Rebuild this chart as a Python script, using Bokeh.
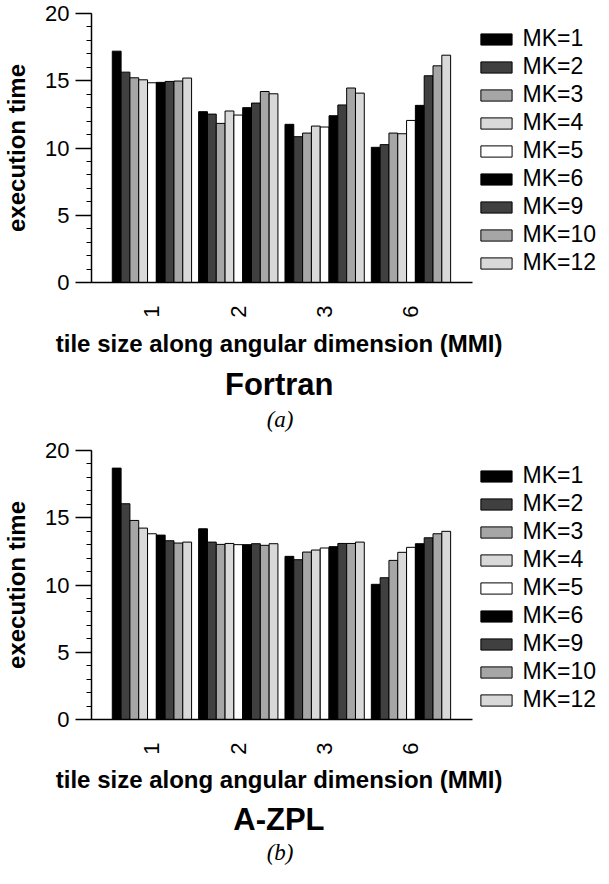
import numpy as np
from bokeh.plotting import figure
from bokeh.models import (Range1d, Legend, LegendItem, FixedTicker,
                          SingleIntervalTicker, Title, ColumnDataSource)
from bokeh.layouts import column
from bokeh.embed import file_html
from bokeh.resources import INLINE

# ---------------- data ----------------
tile_sizes = ["1", "2", "3", "6"]
mk_labels = ["MK=1", "MK=2", "MK=3", "MK=4", "MK=5", "MK=6", "MK=9", "MK=10", "MK=12"]

fortran_t1 = [17.2, 15.64, 15.22, 15.07, 14.85, 14.88, 14.95, 14.98, 15.2]
fortran_t2 = [12.7, 12.52, 11.83, 12.75, 12.45, 13.0, 13.34, 14.2, 14.03]
fortran_t3 = [11.76, 10.84, 11.11, 11.63, 11.56, 12.4, 13.2, 14.46, 14.08]
fortran_t6 = [10.05, 10.25, 11.11, 11.06, 12.05, 13.17, 15.37, 16.11, 16.9]

azpl_t1 = [18.69, 16.04, 14.8, 14.23, 13.81, 13.71, 13.29, 13.12, 13.19]
azpl_t2 = [14.18, 13.19, 13.02, 13.09, 13.0, 13.0, 13.07, 12.95, 13.07]
azpl_t3 = [12.13, 11.88, 12.45, 12.6, 12.75, 12.85, 13.09, 13.09, 13.19]
azpl_t6 = [10.05, 10.54, 11.83, 12.43, 12.8, 13.07, 13.51, 13.81, 13.99]

fills = ["#000000", "#404040", "#a6a6a6", "#d9d9d9", "#ffffff",
         "#000000", "#404040", "#a6a6a6", "#d9d9d9"]

FONT = "Liberation Sans"
GROUP_STEP = 9.8            # 9 bars + gap, in bar-width units
X_START = -2.36             # y axis position
X_LINE_START = -7.09        # baseline reaches left past the y axis
X_AXIS_END = 40.88          # right end of the x axis line
X_FRAME_END = 55.41         # frame continues under the legend


def make_chart(rows, name, tag, height, top, bottom, name_offset, gaps):
    so1, so2, so3 = gaps
    p = figure(width=600, height=height,
               x_range=Range1d(X_START, X_FRAME_END), y_range=Range1d(0, 20),
               output_backend="svg", toolbar_location=None,
               min_border_left=87, min_border_right=0,
               min_border_top=top, min_border_bottom=bottom,
               outline_line_color=None, background_fill_color="white")
    p.xgrid.visible = False
    p.ygrid.visible = False

    items = []
    for j, mk in enumerate(mk_labels):
        xs = [i * GROUP_STEP + j + 0.5 for i in range(len(tile_sizes))]
        tops = [r[j] for r in rows]
        src = ColumnDataSource(dict(x=xs, top=tops))
        r = p.vbar(x="x", top="top", bottom=0, width=1.0, source=src,
                   fill_color=fills[j], line_color="black", line_width=1)
        items.append(LegendItem(label=mk, renderers=[r]))

    legend = Legend(items=items, location="top_right",
                    title=" ", title_text_font_size="1px", title_standoff=7,
                    glyph_width=39, glyph_height=14, label_standoff=7,
                    spacing=1, padding=0, margin=4,
                    border_line_alpha=0, background_fill_alpha=0,
                    label_text_font=FONT, label_text_font_size="23px",
                    label_text_color="black")
    p.add_layout(legend)

    # y axis
    ya = p.yaxis[0]
    ya.ticker = SingleIntervalTicker(interval=5, num_minor_ticks=5)
    ya.axis_line_width = 1.5
    ya.major_tick_out = 16
    ya.major_tick_in = 0
    ya.minor_tick_out = 5
    ya.minor_tick_in = 0
    ya.major_tick_line_width = 1.5
    ya.minor_tick_line_width = 1.2
    ya.major_label_text_font = FONT
    ya.major_label_text_font_size = "22px"
    ya.major_label_text_color = "black"
    ya.major_label_standoff = 6
    ya.axis_label = "execution time"
    ya.axis_label_text_font = FONT
    ya.axis_label_text_font_size = "24px"
    ya.axis_label_text_font_style = "bold"
    ya.axis_label_text_color = "black"
    ya.axis_label_standoff = 12

    # x axis
    xa = p.xaxis[0]
    centers = [i * GROUP_STEP + 4.5 for i in range(len(tile_sizes))]
    xa.bounds = (X_LINE_START, X_AXIS_END)
    xa.ticker = FixedTicker(ticks=centers)
    xa.major_label_overrides = {c: t for c, t in zip(centers, tile_sizes)}
    xa.major_label_orientation = np.pi / 2
    xa.major_tick_out = 0
    xa.major_tick_in = 0
    xa.minor_tick_out = 0
    xa.minor_tick_in = 0
    xa.axis_line_width = 1.5
    xa.major_label_text_font = FONT
    xa.major_label_text_font_size = "22px"
    xa.major_label_text_color = "black"
    xa.major_label_standoff = 23

    # texts below, right-aligned with an offset from the frame's right edge
    p.add_layout(Title(text="tile size along angular dimension (MMI)", align="right",
                       offset=98, standoff=so1, text_font=FONT, text_font_size="24px",
                       text_font_style="bold", text_color="black"), "below")
    p.add_layout(Title(text=name, align="right", offset=name_offset, standoff=so2,
                       text_font=FONT, text_font_size="31px",
                       text_font_style="bold", text_color="black"), "below")
    p.add_layout(Title(text=tag, align="right", offset=307, standoff=so3,
                       text_font="Liberation Serif", text_font_size="23px",
                       text_font_style="italic", text_color="black"), "below")
    return p


p1 = make_chart([fortran_t1, fortran_t2, fortran_t3, fortran_t6], "Fortran", "(a)",
                437, 13, 155, 267, (14, 3, 2))
p2 = make_chart([azpl_t1, azpl_t2, azpl_t3, azpl_t6], "A-ZPL", "(b)",
                431, 13, 149, 276, (13, 1, 0))

layout = column(p1, p2, spacing=0)
open("out.html", "w").write(file_html(layout, INLINE))
